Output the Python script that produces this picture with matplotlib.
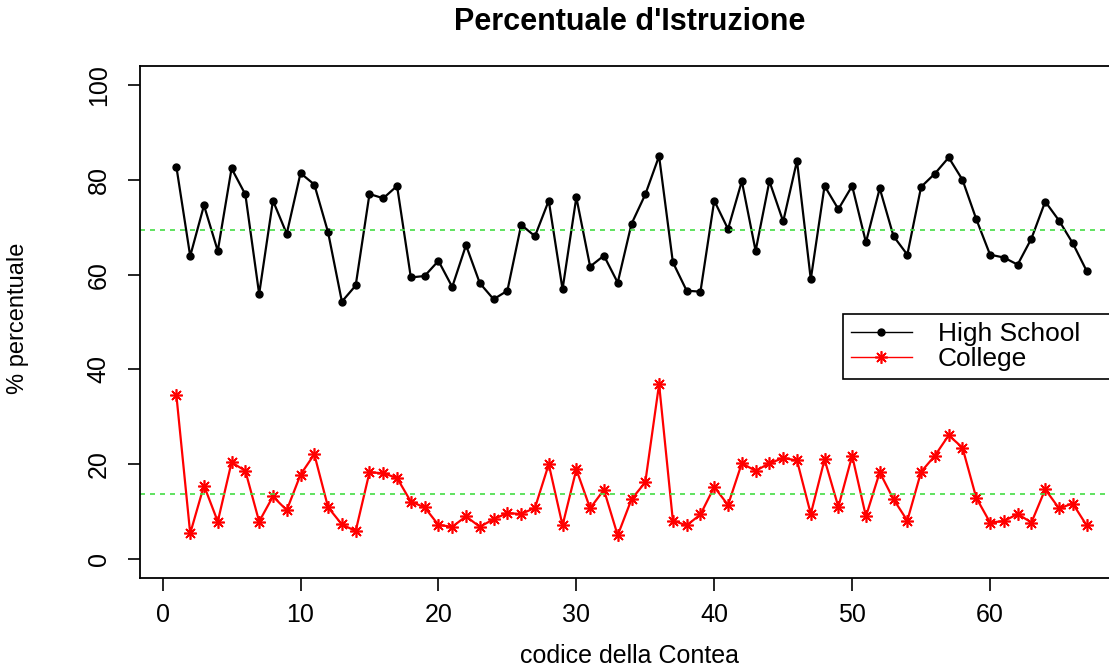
import matplotlib
matplotlib.use("Agg")
import matplotlib.pyplot as plt
import numpy as np

# percentuali per contea
contea = np.arange(1, 68)
high_school = [82.7, 63.9, 74.6, 65.0, 82.4, 76.9, 55.9, 75.6, 68.6, 81.4,
               79.0, 68.9, 54.3, 57.7, 77.0, 76.1, 78.7, 59.4, 59.7, 62.9,
               57.4, 66.2, 58.2, 54.8, 56.6, 70.5, 68.1, 75.6, 56.9, 76.3,
               61.7, 64.0, 58.3, 70.7, 76.9, 85.0, 62.6, 56.6, 56.4, 75.6,
               69.6, 79.7, 65.0, 79.7, 71.2, 84.0, 59.0, 78.7, 73.8, 78.7,
               66.8, 78.2, 68.1, 64.2, 78.5, 81.3, 84.7, 80.0, 71.7, 64.2,
               63.6, 62.1, 67.6, 75.4, 71.4, 66.6, 60.8]
college = [34.5, 5.4, 15.5, 7.9, 20.4, 18.6, 7.9, 13.2, 10.3, 17.8,
           22.1, 10.9, 7.3, 5.9, 18.3, 18.1, 17.1, 12.1, 10.9, 7.2,
           6.8, 9.0, 6.8, 8.4, 9.7, 9.5, 10.8, 20.0, 7.1, 18.9,
           10.7, 14.6, 5.0, 12.6, 16.2, 36.9, 8.1, 7.1, 9.4, 15.2,
           11.4, 20.2, 18.6, 20.2, 21.3, 20.8, 9.5, 21.0, 11.0, 21.8,
           9.0, 18.3, 12.6, 8.1, 18.4, 21.8, 26.1, 23.5, 12.9, 7.7,
           8.0, 9.5, 7.7, 14.7, 10.7, 11.7, 7.1]
hs_mean = 69.4
college_mean = 13.8

plt.rcParams['font.family'] = ['Liberation Sans', 'DejaVu Sans']

fig = plt.figure(figsize=(11.09, 6.67), dpi=100)
ax = fig.add_axes([140 / 1109, 1 - 578 / 667, 983 / 1109, 512 / 667])

ax.plot(contea, high_school, color='black', lw=1.6, marker='o', markersize=5,
        label='High School')
ax.plot(contea, college, color='red', lw=1.6, marker=(8, 2, 0), markersize=9,
        markeredgewidth=1.2, label='College')
ax.axhline(hs_mean, color='#44dd44', lw=1.2, ls=(0, (3, 3)))
ax.axhline(college_mean, color='#44dd44', lw=1.2, ls=(0, (3, 3)))

ax.set_xlim(-1.64, 69.64)
ax.set_ylim(-4, 104)
ax.set_xticks(range(0, 61, 10))
ax.set_yticks(range(0, 101, 20))
ax.tick_params(axis='both', direction='out', length=9, width=1.2,
               labelsize=18)
ax.tick_params(axis='x', pad=9)
ax.tick_params(axis='y', labelrotation=90, pad=12)
for lab in ax.get_yticklabels():
    lab.set_va('center')
for sp in ax.spines.values():
    sp.set_linewidth(1.3)

fig.text(630 / 1109, 1 - 22 / 667, "Percentuale d'Istruzione", ha='center',
         va='center', fontsize=22, fontweight='bold')
fig.text(630 / 1109, 1 - 656 / 667, "codice della Contea", ha='center',
         va='center', fontsize=18)
fig.text(18 / 1109, 1 - 318 / 667, "% percentuale", ha='center', va='center',
         rotation=90, fontsize=17)

# legend box runs past the right edge, as in the original
leg = ax.legend(loc='upper left',
                bbox_to_anchor=(843 / 1109, 1 - 380 / 667, 290 / 1109, 66 / 667),
                bbox_transform=fig.transFigure, borderaxespad=0, mode='expand',
                fancybox=False, edgecolor='black', framealpha=1,
                fontsize=19, handlelength=2.3, handletextpad=1.0,
                labelspacing=0.05, borderpad=0.3, markerscale=1.0)
leg.get_frame().set_linewidth(1.2)
for h in leg.get_lines():
    h.set_linewidth(1.0)

fig.savefig('out.png', dpi=100)
